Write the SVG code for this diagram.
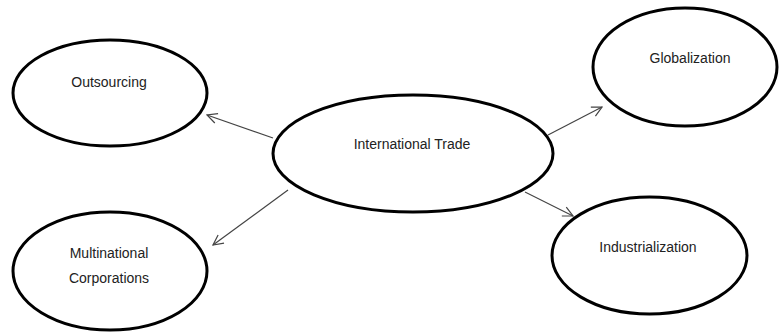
<svg xmlns="http://www.w3.org/2000/svg" width="779" height="332" viewBox="0 0 779 332">
<defs>
<style>
.node ellipse{fill:#fff;stroke:#000;stroke-width:3}
.node text{font-family:"Liberation Sans",Arial,sans-serif;font-size:14px;fill:#222;text-anchor:middle;dominant-baseline:central}
.conn line{stroke:#444;stroke-width:1.2;marker-end:url(#arr)}
</style>
<marker id="arr" viewBox="0 0 12 12" refX="11" refY="6" markerWidth="12" markerHeight="12" markerUnits="userSpaceOnUse" orient="auto">
<path d="M1,1 L11,6 L1,11" fill="none" stroke="#444" stroke-width="1.2"/>
</marker>
</defs>
<rect width="779" height="332" fill="#fff"/>
<g class="conn" id="connectors">
<line x1="273" y1="138" x2="207" y2="115"/>
<line x1="288" y1="190" x2="213" y2="245"/>
<line x1="548" y1="135" x2="602" y2="107"/>
<line x1="525" y1="192" x2="573" y2="216"/>
</g>
<g class="node" id="outsourcing">
<ellipse cx="110" cy="93" rx="97" ry="53"/>
<text x="109" y="82">Outsourcing</text>
</g>
<g class="node" id="international-trade">
<ellipse cx="413" cy="153.5" rx="140" ry="58.5"/>
<text x="412" y="144">International Trade</text>
</g>
<g class="node" id="globalization">
<ellipse cx="685" cy="67" rx="92" ry="59"/>
<text x="690" y="58">Globalization</text>
</g>
<g class="node" id="multinational">
<ellipse cx="110" cy="271" rx="97" ry="59"/>
<text x="109" y="253">Multinational</text>
<text x="109" y="278">Corporations</text>
</g>
<g class="node" id="industrialization">
<ellipse cx="649.5" cy="255.5" rx="97.5" ry="58.5"/>
<text x="648" y="247">Industrialization</text>
</g>
</svg>
